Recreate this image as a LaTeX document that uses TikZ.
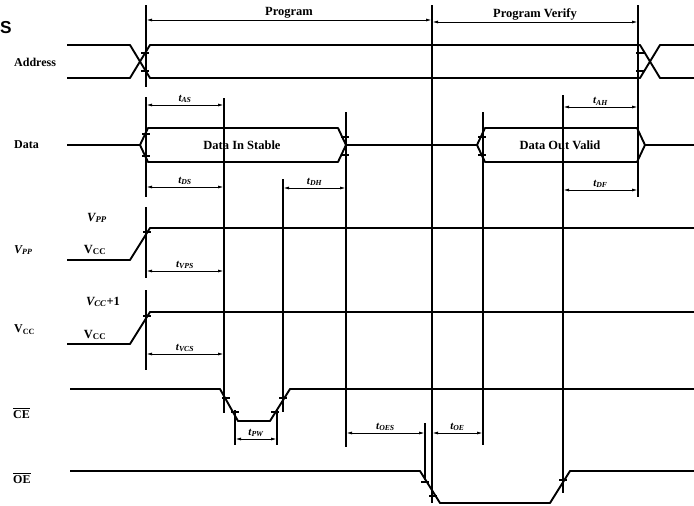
\documentclass[tikz,border=0pt]{standalone}
\usepackage{amsmath}
\usepackage{fontspec}
\setmainfont{Liberation Serif}
\setsansfont{Liberation Sans}
\usetikzlibrary{arrows.meta}

\begin{document}
\begin{tikzpicture}[x=1pt,y=-1pt,
  sig/.style={line width=1.9pt,line join=round},
  guide/.style={line width=1.3pt},
  dim/.style={line width=1pt,{Latex[length=6pt,width=3pt]}-{Latex[length=6pt,width=3pt]}},
  big/.style={font=\fontsize{12.5}{14}\selectfont\bfseries},
  signame/.style={font=\fontsize{12}{14}\selectfont\bfseries,anchor=west,inner sep=0pt},
  tlab/.style={font=\fontsize{11}{13}\selectfont\bfseries\itshape,inner sep=1.5pt}]

\useasboundingbox (0,0) rectangle (694,506);

\coordinate (P) at (146,20);
\coordinate (Q) at (432,20);
\coordinate (R) at (638,22);

\draw[sig] (67,45) -- (130,45) -- (150,78) -- (640,78) -- (660,45) -- (694,45);
\draw[sig] (67,78) -- (130,78) -- (150,45) -- (640,45) -- (660,78) -- (694,78);

\draw[sig] (67,145) -- (140,145);
\draw[sig] (140,145) -- (148,128) -- (338,128) -- (346,145) -- (338,162) -- (148,162) -- cycle;
\draw[sig] (346,145) -- (477,145);
\draw[sig] (477,145) -- (485,128) -- (637,128) -- (645,145) -- (637,162) -- (485,162) -- cycle;
\draw[sig] (645,145) -- (694,145);

\draw[sig] (67,260) -- (130,260) -- (150,228) -- (694,228);
\draw[sig] (67,344) -- (130,344) -- (150,312) -- (694,312);

\draw[sig] (70,389) -- (220,389) -- (238,421) -- (270,421) -- (290,389) -- (694,389);
\draw[sig] (70,471) -- (420,471) -- (440,503) -- (550,503) -- (570,471) -- (694,471);

\draw[guide] (146,5) -- (146,87);
\draw[guide] (146,97) -- (146,197);
\draw[guide] (146,207) -- (146,278);
\draw[guide] (146,290) -- (146,370);
\draw[guide] (224,98) -- (224,413);
\draw[guide] (283,179) -- (283,412);
\draw[guide] (235,410) -- (235,445);
\draw[guide] (277,410) -- (277,445);
\draw[guide] (346,112) -- (346,447);
\draw[guide] (425,423) -- (425,480);
\draw[guide] (432,5) -- (432,503);
\draw[guide] (483,112) -- (483,445);
\draw[guide] (563,95) -- (563,493);
\draw[guide] (638,5) -- (638,197);

\foreach \x/\y in {145/53,145/71,640/53,640/71,146/134,146/156,345/137,345/155,
  482/137,482/155,147/232,147/316,226/398,235/412,275/412,283/398,425/482,433/496,563/480}
  \draw[guide] (\x-4,\y) -- (\x+4,\y);

\draw[dim] (P) -- (Q) node[midway,above=-2pt,big] (prog) {Program};
\draw[dim] (Q |- R) -- (R) node[midway,above=-2pt,big] (ver) {Program Verify};

\draw[dim] (146,105) -- (224,105) node[midway,above,tlab] (tas) {t\textsubscript{AS}};
\draw[dim] (563,107) -- (638,107) node[midway,above,tlab] (tah) {t\textsubscript{AH}};
\draw[dim] (146,187) -- (224,187) node[midway,above,tlab] (tds) {t\textsubscript{DS}};
\draw[dim] (283,188) -- (346,188) node[midway,above,tlab] (tdh) {t\textsubscript{DH}};
\draw[dim] (563,190) -- (638,190) node[midway,above,tlab] (tdf) {t\textsubscript{DF}};
\draw[dim] (146,271) -- (224,271) node[midway,above,tlab] (tvps) {t\textsubscript{VPS}};
\draw[dim] (146,354) -- (224,354) node[midway,above,tlab] (tvcs) {t\textsubscript{VCS}};
\draw[dim] (235,439) -- (277,439) node[midway,above,tlab] (tpw) {t\textsubscript{PW}};
\draw[dim] (346,433) -- (425,433) node[midway,above,tlab] (toes) {t\textsubscript{OES}};
\draw[dim] (432,433) -- (483,433) node[midway,above,tlab] (toe) {t\textsubscript{OE}};

\node[big] (din) at (242,145) {Data In Stable};
\node[big] (dout) at (560,145) {Data Out Valid};

\node[font=\sffamily\bfseries\LARGE,anchor=west,inner sep=0pt] (S) at (0,28) {S};
\node[signame] (addr) at (14,62) {Address};
\node[signame] (data) at (14,145) {Data};
\node[signame] (vpp) at (14,250) {\textit{V\textsubscript{PP}}};
\node[signame] (vcc) at (14,330) {V\textsubscript{CC}};
\node[signame] (ce) at (13,413) {$\overline{\textbf{CE}}$};
\node[signame] (oe) at (13,478) {$\overline{\textbf{OE}}$};

\node[big] (vpph) at (97,218) {\textit{V\textsubscript{PP}}};
\node[big] (vppl) at (95,250) {V\textsubscript{CC}};
\node[big] (vcch) at (103,302) {\textit{V\textsubscript{CC}}+1};
\node[big] (vccl) at (95,335) {V\textsubscript{CC}};

\end{tikzpicture}
\end{document}
